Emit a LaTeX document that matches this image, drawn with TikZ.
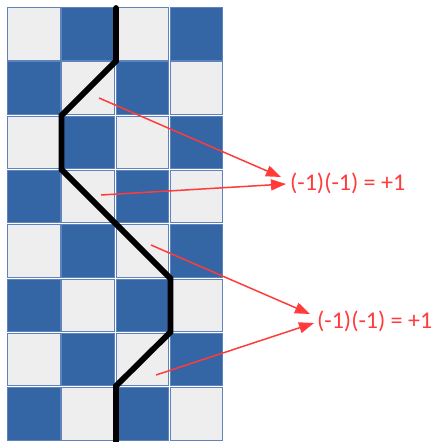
\documentclass[tikz,border=0pt]{standalone}
\usepackage{fontspec}
\setmainfont{Carlito}
\usetikzlibrary{arrows.meta}
\definecolor{cblue}{HTML}{3465A4}
\definecolor{clight}{HTML}{EEEEEE}
\definecolor{cedge}{HTML}{5F83BC}
\definecolor{cred}{HTML}{FF3B3B}
\tikzset{
  lightcell/.style={fill=clight,draw=cedge,line width=0.9pt},
  bluecell/.style={fill=cblue,draw=cedge,line width=0.9pt},
  pathline/.style={line width=5.8pt,black,line cap=round},
  redarrow/.style={draw=cred,line width=1.5pt,-{Triangle[length=15pt,width=11pt]}},
  label/.style={text=cred,font=\fontsize{24}{28}\selectfont,inner sep=0pt,anchor=west}
}
\begin{document}
\begin{tikzpicture}[x=1pt,y=-1pt]
\useasboundingbox (0,0) rectangle (433,442);
\def\p{54.3}
\foreach \i in {0,...,3}{
  \foreach \j in {0,...,7}{
    \pgfmathtruncatemacro{\s}{mod(\i+\j,2)}
    \ifnum\s=0
      \path[lightcell] (7.5+\i*\p,7.5+\j*\p) rectangle ++(52.5,52.5);
    \else
      \path[bluecell] (7.5+\i*\p,7.5+\j*\p) rectangle ++(52.5,52.5);
    \fi
  }
}
% path vertices
\coordinate (v0) at (116,8);
\coordinate (v1) at (116,61);
\coordinate (v2) at (61.5,115.5);
\coordinate (v3) at (61.5,169.5);
\coordinate (v4) at (170.5,278.5);
\coordinate (v5) at (170.5,332);
\coordinate (v6) at (116,386);
\coordinate (v7) at (116,445);
\draw[pathline] (v0) -- (v1) -- (v2) -- (v3) -- (v4) -- (v5) -- (v6) -- (v7);
% labels
\node[label] (t1) at (290,183) {(-1)(-1) = +1};
\node[label] (t2) at (317,321) {(-1)(-1) = +1};
% arrow ends
\coordinate (a1s) at (99,98);
\coordinate (a1e) at (281,177);
\coordinate (a2s) at (101,195);
\coordinate (a2e) at (286,184);
\coordinate (a3s) at (151,245);
\coordinate (a3e) at (310,314);
\coordinate (a4s) at (156,375);
\coordinate (a4e) at (314,323);
\draw[redarrow] (a1s) -- (a1e);
\draw[redarrow] (a2s) -- (a2e);
\draw[redarrow] (a3s) -- (a3e);
\draw[redarrow] (a4s) -- (a4e);
\end{tikzpicture}
\end{document}
